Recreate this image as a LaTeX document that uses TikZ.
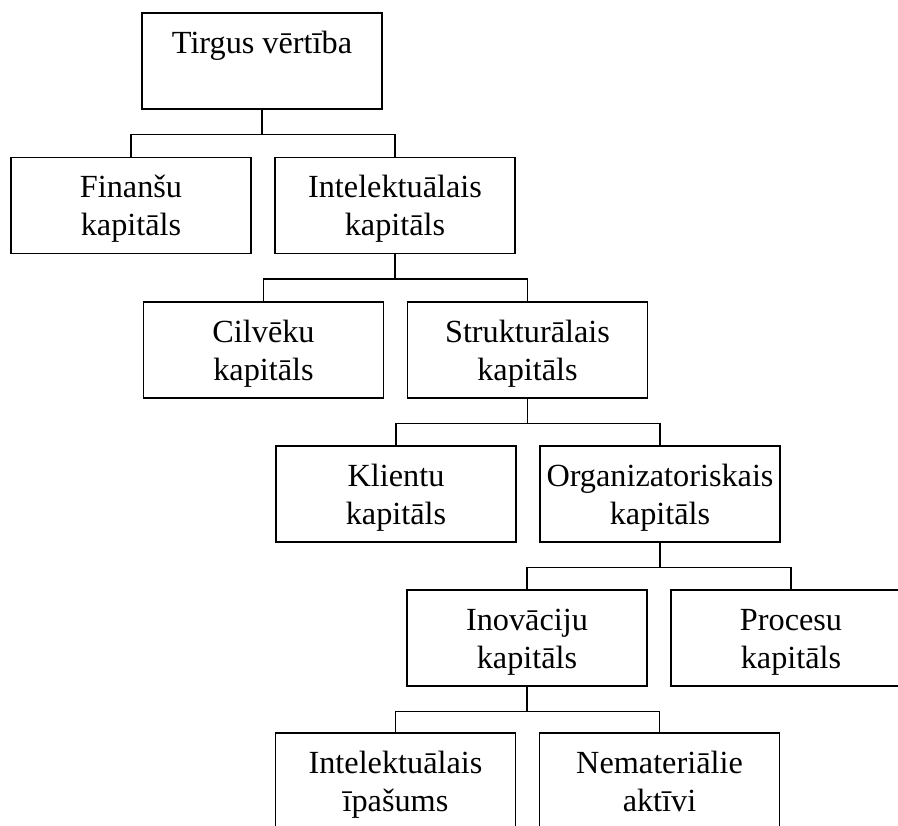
\documentclass[tikz,border=0pt]{standalone}
\usepackage{fontspec}
\setmainfont{Liberation Serif}
% strut for the first line of each box, so all labels sit at the same depth
\newcommand{\topstrut}{\rule{0pt}{22pt}}
\begin{document}
\begin{tikzpicture}[x=0.75pt,y=-0.75pt,
  unit/.style={draw=black, line width=1.2pt, minimum width=180pt, minimum height=72pt,
    inner sep=1pt, align=center, font=\fontsize{24.2}{28.5}\selectfont},
  link/.style={draw=black, line width=1.2pt}]
\useasboundingbox (0,0) rectangle (898,825);

% boxes, one row per level
\node[unit] (tv)  at (262,61)    {\topstrut Tirgus vērtība\\\phantom{kapitāls}};
\node[unit] (fin) at (131,205.5) {\topstrut Finanšu\\kapitāls};
\node[unit] (int) at (395,205.5) {\topstrut Intelektuālais\\kapitāls};
\node[unit] (cil) at (263.5,350) {\topstrut Cilvēku\\kapitāls};
\node[unit] (str) at (527.5,350) {\topstrut Strukturālais\\kapitāls};
\node[unit] (kli) at (396,494)   {\topstrut Klientu\\kapitāls};
\node[unit] (org) at (660,494)   {\topstrut Organizatoriskais\\kapitāls};
\node[unit] (ino) at (527,638)   {\topstrut Inovāciju\\kapitāls};
\node[unit] (pro) at (791,638)   {\topstrut Procesu\\kapitāls};
\node[unit] (iip) at (395.5,781) {\topstrut Intelektuālais\\īpašums};
\node[unit] (nem) at (659.5,781) {\topstrut Nemateriālie\\aktīvi\vphantom{p}};

% elbow connectors: down to a bar halfway, across, then down to the child
\foreach \p/\c in {tv/fin, tv/int, int/cil, int/str, str/kli, str/org,
                   org/ino, org/pro, ino/iip, ino/nem}
  \draw[link] (\p.south) -- ++(0,24.5) -| (\c.north);
\end{tikzpicture}
\end{document}
